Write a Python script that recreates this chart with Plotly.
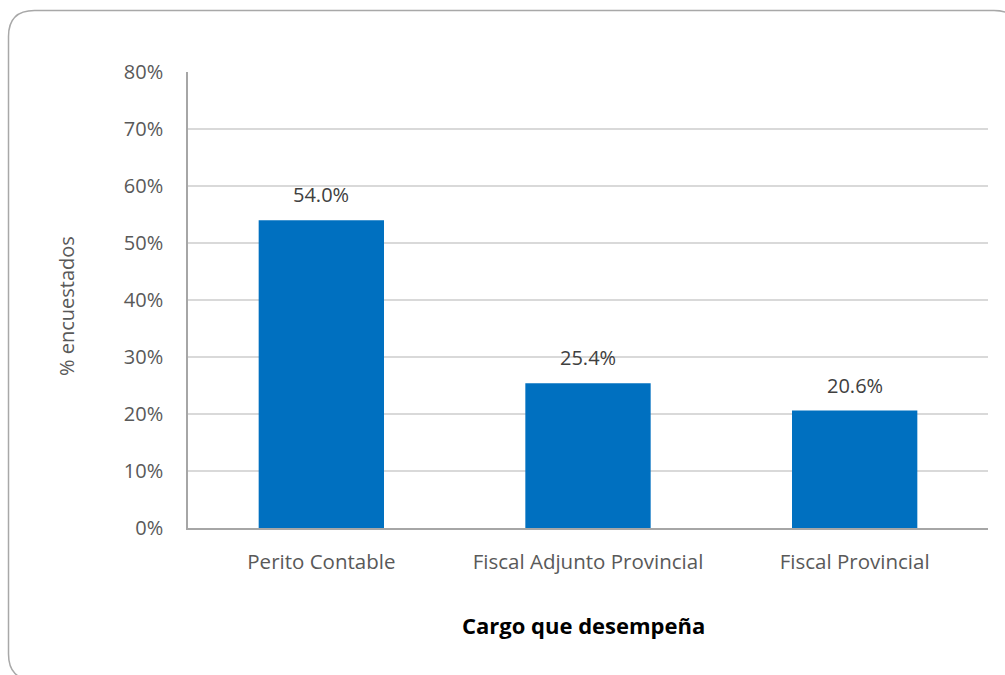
import plotly.graph_objects as go

# Survey results: position held by respondents
cargos = ["Perito Contable", "Fiscal Adjunto Provincial", "Fiscal Provincial"]
porcentajes = [54.0, 25.4, 20.6]
y_ticks = [0, 10, 20, 30, 40, 50, 60, 70, 80]
y_tick_labels = ["0%", "10%", "20%", "30%", "40%", "50%", "60%", "70%", "80%"]

W, H = 1005, 675
ML, MR, MT, MB = 188, 17, 72, 147
PW, PH = W - ML - MR, H - MT - MB

FONT = "Open Sans"
GREY_TXT = "#595959"
BAR = "#0070C0"


def px_to_paper(x, y):
    return (x - ML) / PW, (H - MB - y) / PH


def rounded_rect_path(x0, y0, x1, y1, r):
    # outline of the chart frame, corners drawn as quadratic curves
    pts = [
        ("M", (x0 + r, y0)),
        ("L", (x1 - r, y0)),
        ("Q", (x1, y0), (x1, y0 + r)),
        ("L", (x1, y1 - r)),
        ("Q", (x1, y1), (x1 - r, y1)),
        ("L", (x0 + r, y1)),
        ("Q", (x0, y1), (x0, y1 - r)),
        ("L", (x0, y0 + r)),
        ("Q", (x0, y0), (x0 + r, y0)),
    ]
    parts = []
    for cmd, *coords in pts:
        segs = []
        for (px, py) in coords:
            ax, ay = px_to_paper(px, py)
            segs.append(f"{ax:.5f},{ay:.5f}")
        parts.append(cmd + " ".join(segs))
    return " ".join(parts) + " Z"


fig = go.Figure()
fig.add_trace(
    go.Bar(
        x=cargos,
        y=porcentajes,
        marker=dict(color=BAR, line=dict(width=0)),
        hoverinfo="skip",
    )
)

# value labels above each bar
for c, v in zip(cargos, porcentajes):
    fig.add_annotation(
        x=c, y=v, xref="x", yref="y",
        text=f"{v:.1f}%",
        showarrow=False,
        yanchor="bottom",
        yshift=10,
        font=dict(family=FONT, size=20, color="#404040"),
    )

# axis titles
tx, ty = px_to_paper(583, 625)
fig.add_annotation(
    x=tx, y=ty, xref="paper", yref="paper",
    text="<b>Cargo que desempeña</b>",
    showarrow=False, xanchor="center", yanchor="middle",
    font=dict(family=FONT, size=22, color="#000000"),
)
ax_, ay_ = px_to_paper(66, 306)
fig.add_annotation(
    x=ax_, y=ay_, xref="paper", yref="paper",
    text="% encuestados", textangle=-90,
    showarrow=False, xanchor="center", yanchor="middle",
    font=dict(family=FONT, size=20, color=GREY_TXT),
)

fig.add_shape(
    type="path",
    path=rounded_rect_path(8.5, 10.5, 1020, 680, 26),
    xref="paper", yref="paper",
    line=dict(color="#A8A8A8", width=1.5),
    fillcolor="rgba(0,0,0,0)",
    layer="above",
)

fig.update_layout(
    width=W, height=H,
    margin=dict(l=ML, r=MR, t=MT, b=MB, pad=0),
    paper_bgcolor="white",
    plot_bgcolor="white",
    showlegend=False,
    bargap=0.53,
    font=dict(family=FONT, size=20, color=GREY_TXT),
    xaxis=dict(
        showline=True, linecolor="#A6A6A6", linewidth=2,
        ticks="", showgrid=False,
        tickfont=dict(family=FONT, size=20.5, color=GREY_TXT),
        ticklabelstandoff=14,
        fixedrange=True,
    ),
    yaxis=dict(
        range=[0, 80],
        tickvals=y_ticks, ticktext=y_tick_labels,
        showline=True, linecolor="#A6A6A6", linewidth=1.5,
        showgrid=True, gridcolor="#D9D9D9", gridwidth=1.5,
        zeroline=False, ticks="",
        ticklabelstandoff=19,
        tickfont=dict(family=FONT, size=20, color=GREY_TXT),
        fixedrange=True,
    ),
)

fig.write_html("out.html")
